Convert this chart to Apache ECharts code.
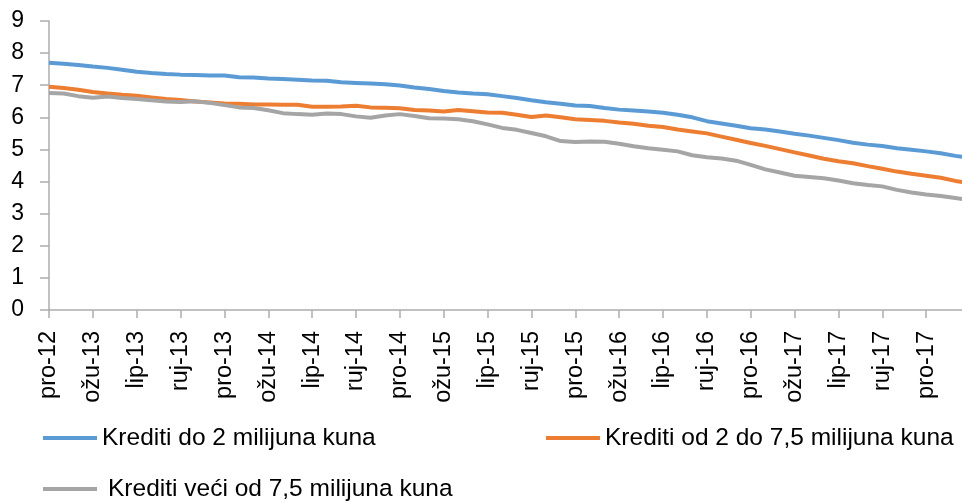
<!DOCTYPE html>
<html>
<head>
<meta charset="utf-8">
<script src="https://cdn.jsdelivr.net/npm/echarts@6/dist/echarts.min.js"></script>
<style>
  html, body { margin: 0; padding: 0; background: #fff; }
  #main { width: 962px; height: 503px; }
</style>
</head>
<body>
<div id="main"></div>
<script>
// months: pro-12 .. ožu-18
var monthNames = ['sij', 'velj', 'ožu', 'tra', 'svi', 'lip', 'srp', 'kol', 'ruj', 'lis', 'stu', 'pro'];
var months = [];
for (var k = 0; k < 64; k++) {
    var m = (11 + k) % 12;
    var y = 12 + Math.floor((11 + k) / 12);
    months.push(monthNames[m] + '-' + y);
}

var seriesNames = ['Krediti do 2 milijuna kuna', 'Krediti od 2 do 7,5 milijuna kuna', 'Krediti veći od 7,5 milijuna kuna'];

var small = [7.70, 7.67, 7.63, 7.58, 7.54, 7.48, 7.42, 7.38, 7.35, 7.33, 7.32, 7.30,
    7.30, 7.25, 7.24, 7.21, 7.19, 7.17, 7.15, 7.14, 7.09, 7.07, 7.05, 7.03,
    6.99, 6.93, 6.88, 6.82, 6.77, 6.74, 6.72, 6.66, 6.60, 6.53, 6.47, 6.42,
    6.37, 6.35, 6.29, 6.24, 6.21, 6.18, 6.14, 6.08, 6.00, 5.88, 5.81, 5.74,
    5.66, 5.62, 5.56, 5.49, 5.43, 5.36, 5.29, 5.21, 5.15, 5.11, 5.04, 4.99,
    4.94, 4.88, 4.80, 4.74];

var medium = [6.95, 6.91, 6.86, 6.79, 6.74, 6.70, 6.67, 6.62, 6.57, 6.54, 6.49, 6.46,
    6.43, 6.42, 6.40, 6.40, 6.39, 6.39, 6.33, 6.33, 6.34, 6.36, 6.31, 6.30,
    6.28, 6.23, 6.21, 6.18, 6.23, 6.19, 6.15, 6.14, 6.08, 6.01, 6.06, 6.00,
    5.94, 5.92, 5.89, 5.84, 5.80, 5.74, 5.70, 5.62, 5.56, 5.50, 5.40, 5.30,
    5.20, 5.11, 5.01, 4.91, 4.81, 4.71, 4.63, 4.57, 4.48, 4.40, 4.31, 4.24,
    4.18, 4.12, 4.02, 3.95];

var large = [6.76, 6.74, 6.66, 6.61, 6.65, 6.60, 6.57, 6.53, 6.49, 6.48, 6.50, 6.45,
    6.38, 6.31, 6.29, 6.22, 6.13, 6.10, 6.08, 6.12, 6.10, 6.03, 5.99, 6.06,
    6.10, 6.04, 5.97, 5.96, 5.94, 5.88, 5.78, 5.67, 5.61, 5.51, 5.41, 5.26,
    5.23, 5.25, 5.24, 5.18, 5.10, 5.04, 4.99, 4.94, 4.82, 4.76, 4.72, 4.65,
    4.52, 4.38, 4.28, 4.18, 4.14, 4.10, 4.03, 3.95, 3.89, 3.85, 3.74, 3.66,
    3.60, 3.55, 3.49, 3.42];

var colors = ['#5B9BD5', '#ED7D31', '#A5A5A5'];
var axisColor = '#ADADAD';
var fontFamily = "'Liberation Sans', Arial, sans-serif";

var myChart = echarts.init(document.getElementById('main'));

function makeLegend(name, left, top, textGap) {
    return {
        data: [name],
        left: left,
        top: top,
        icon: 'rect',
        itemWidth: 54,
        itemHeight: 4,
        padding: 0,
        selectedMode: false,
        textStyle: {
            fontFamily: fontFamily,
            fontSize: 24.5,
            color: '#000',
            lineHeight: 26,
            padding: [0, 0, 0, textGap]
        }
    };
}

var seriesList = [];
var datas = [small, medium, large];
for (var i = 0; i < seriesNames.length; i++) {
    seriesList.push({
        name: seriesNames[i],
        type: 'line',
        data: datas[i],
        showSymbol: false,
        symbol: 'none',
        smooth: false,
        animation: false,
        lineStyle: { width: 4, color: colors[i] },
        itemStyle: { color: colors[i] }
    });
}

var option = {
    backgroundColor: '#fff',
    animation: false,
    grid: {
        left: 49,
        right: -8,
        top: 21,
        bottom: 193,
        containLabel: false,
        outerBoundsMode: 'none'
    },
    legend: [
        makeLegend(seriesNames[0], 43, 425, 0),
        makeLegend(seriesNames[1], 546, 425, 0),
        makeLegend(seriesNames[2], 43, 476, 6)
    ],
    xAxis: {
        type: 'category',
        boundaryGap: false,
        data: months,
        axisLine: { lineStyle: { color: axisColor, width: 1.5 } },
        axisTick: {
            interval: 2,
            length: 8,
            lineStyle: { color: axisColor, width: 1.5 }
        },
        axisLabel: {
            // last month sits past the right edge, its label is not shown
            interval: function (index) { return index % 3 === 0 && index < 63; },
            rotate: 90,
            margin: 21,
            color: '#000',
            fontFamily: fontFamily,
            fontSize: 23.5
        },
        splitLine: { show: false }
    },
    yAxis: {
        type: 'value',
        min: 0,
        max: 9,
        interval: 1,
        axisLine: { show: true, lineStyle: { color: axisColor, width: 1.5 } },
        axisTick: {
            show: true,
            length: 9,
            lineStyle: { color: axisColor, width: 1.5 }
        },
        axisLabel: {
            margin: 25,
            color: '#000',
            fontFamily: fontFamily,
            fontSize: 23
        },
        splitLine: { show: false }
    },
    series: seriesList
};

myChart.setOption(option);
</script>
</body>
</html>
